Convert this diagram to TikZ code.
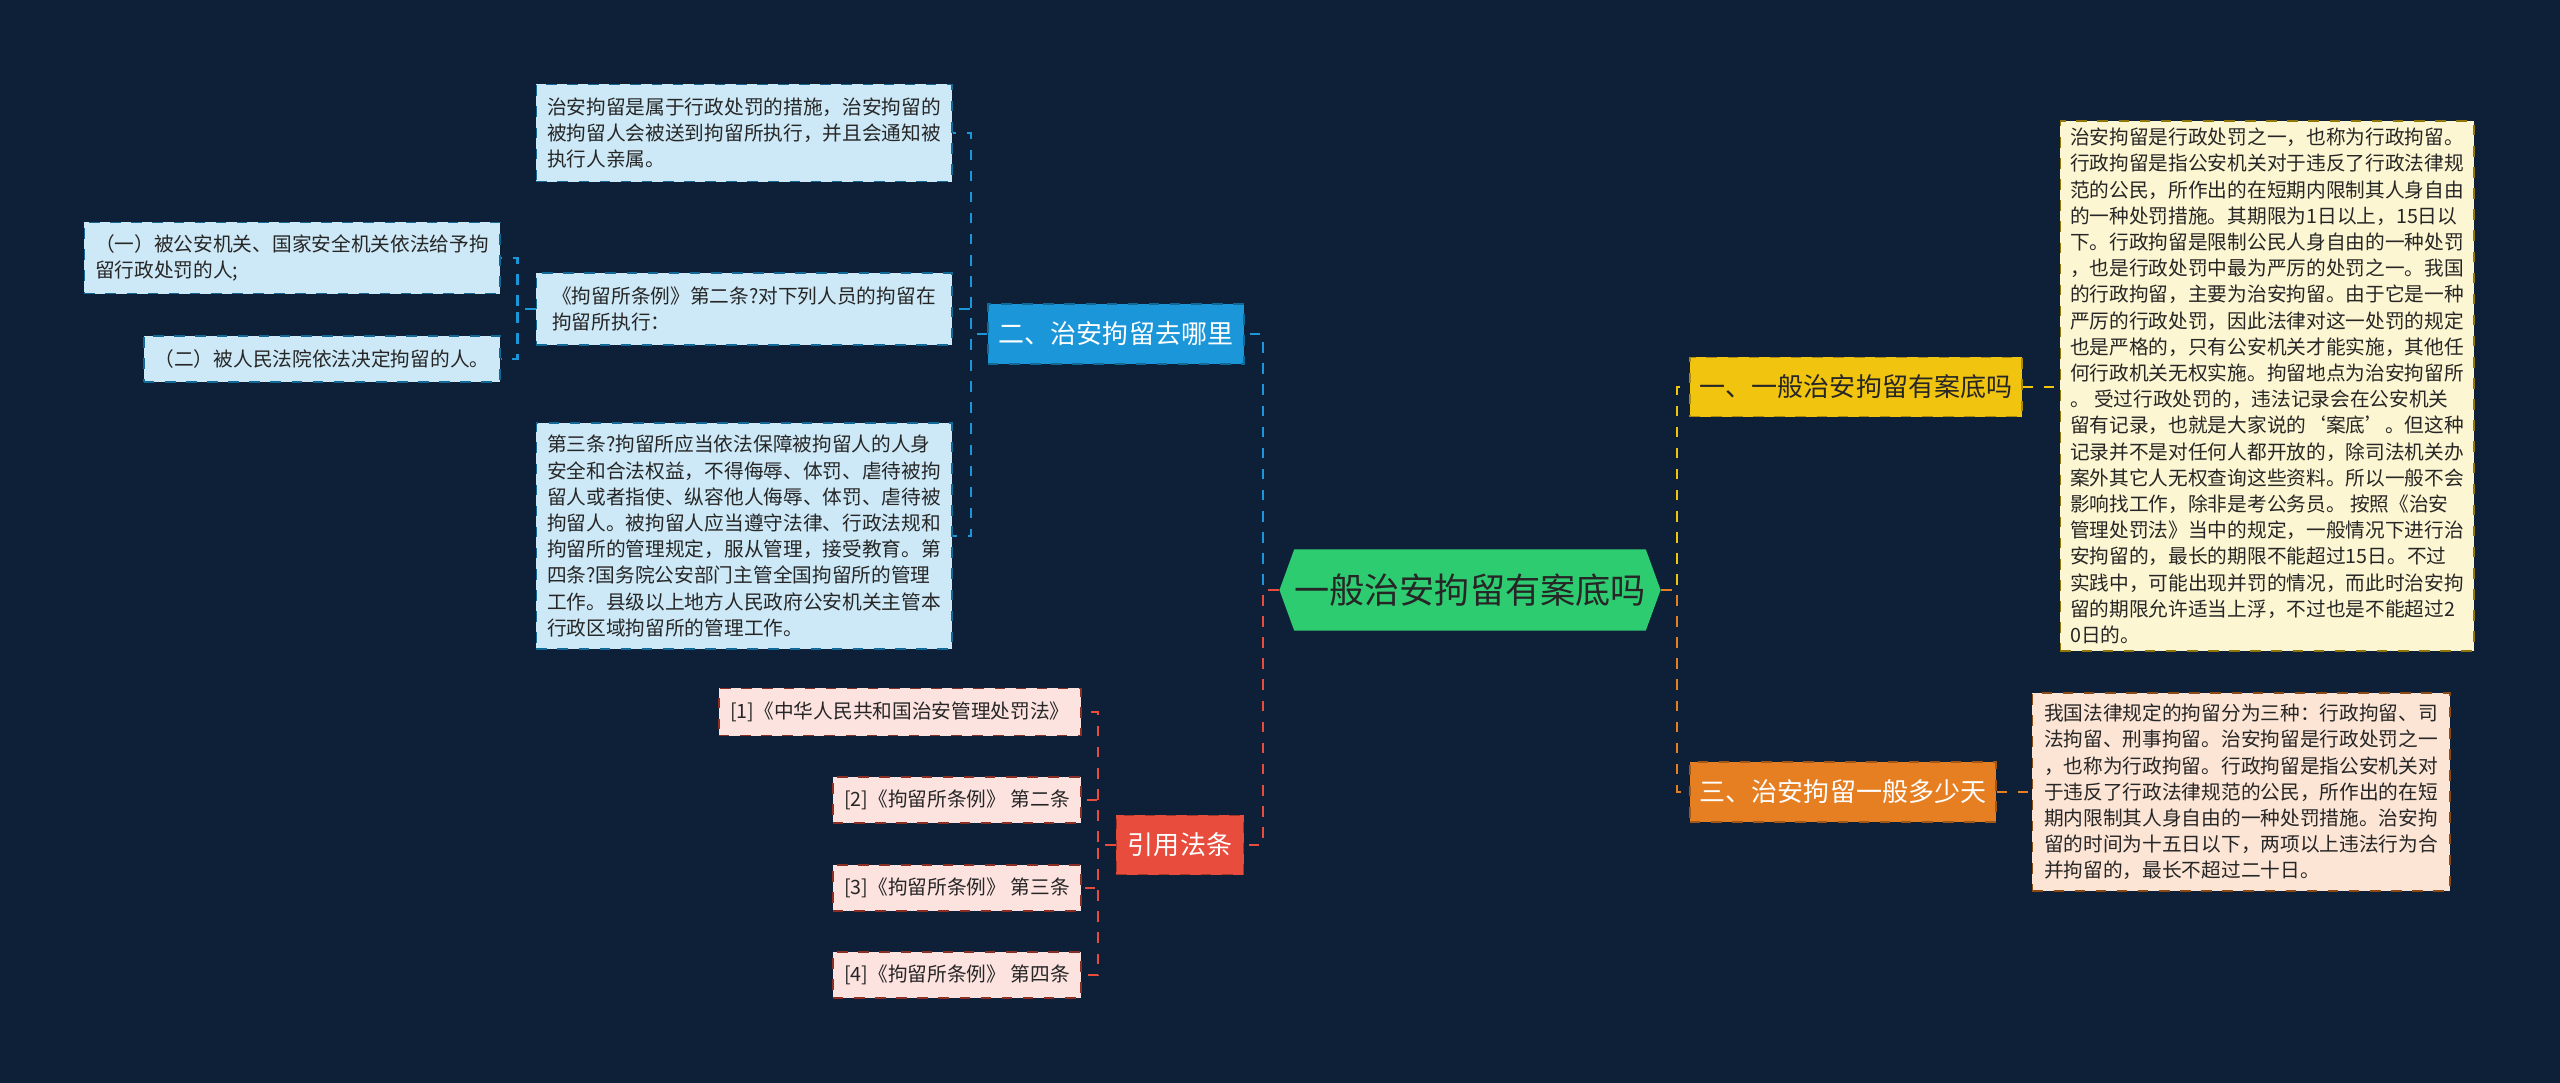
\documentclass[tikz,border=0pt]{standalone}
\usepackage{fontspec}
\setmainfont{Noto Sans CJK SC}
\usetikzlibrary{shapes.symbols}

\definecolor{bgc}{RGB}{13,32,56}
\definecolor{rootc}{RGB}{46,204,113}
\definecolor{bluec}{RGB}{26,150,217}
\definecolor{yelc}{RGB}{241,196,15}
\definecolor{orac}{RGB}{230,126,34}
\definecolor{redc}{RGB}{231,76,60}
\definecolor{bluet}{RGB}{205,233,247}
\definecolor{yelt}{RGB}{253,246,210}
\definecolor{orat}{RGB}{252,229,213}
\definecolor{redt}{RGB}{253,227,224}

\tikzset{
  txt/.style={draw, dashed, line width=0.5pt, align=left, text=black!85,
    font=\fontsize{5.6}{7.45}\selectfont, inner sep=0pt, anchor=center},
  tblue/.style={txt, fill=bluet, draw=bluec!70!black},
  tyel/.style={txt, fill=yelt, draw=yelc!60!black},
  tora/.style={txt, fill=orat, draw=orac!60!black},
  tred/.style={txt, fill=redt, draw=redc!60!black},
  branch/.style={draw, dashed, text=white, font=\fontsize{7.4}{9}\selectfont, inner sep=0pt},
  cbl/.style={bluec, dashed, line width=0.6pt},
  cye/.style={yelc, dashed, line width=0.6pt},
  cor/.style={orac, dashed, line width=0.6pt},
  cre/.style={redc, dashed, line width=0.6pt},
}

\begin{document}
\begin{tikzpicture}[x=0.01cm, y=-0.01cm]
\useasboundingbox[fill=bgc] (0,0) rectangle (2560,1083);

% root
\node[shape=signal, signal to=east and west, signal pointer angle=140, fill=rootc,
  minimum width=3.69cm, minimum height=0.81cm, inner xsep=0pt, inner ysep=0pt,
  font=\fontsize{10}{12}\selectfont, text=black!85] (root) at (1470,590) {一般治安拘留有案底吗};

% right side
\node[branch, fill=yelc, draw=yelc!70!black, text=black!85, minimum width=3.32cm, minimum height=0.59cm] (b1) at (1856,387) {一、一般治安拘留有案底吗};
\node[branch, fill=orac, draw=orac!70!black, minimum width=3.06cm, minimum height=0.60cm] (b3) at (1843,792) {三、治安拘留一般多少天};

\node[tyel, minimum width=4.13cm, minimum height=5.29cm] (y1) at (2267,386) {治安拘留是行政处罚之一，也称为行政拘留。\\行政拘留是指公安机关对于违反了行政法律规\\范的公民，所作出的在短期内限制其人身自由\\的一种处罚措施。其期限为1日以上，15日以\\下。行政拘留是限制公民人身自由的一种处罚\\，也是行政处罚中最为严厉的处罚之一。我国\\的行政拘留，主要为治安拘留。由于它是一种\\严厉的行政处罚，因此法律对这一处罚的规定\\也是严格的，只有公安机关才能实施，其他任\\何行政机关无权实施。拘留地点为治安拘留所\\。 受过行政处罚的，违法记录会在公安机关\\留有记录，也就是大家说的‘案底’。但这种\\记录并不是对任何人都开放的，除司法机关办\\案外其它人无权查询这些资料。所以一般不会\\影响找工作，除非是考公务员。 按照《治安\\管理处罚法》当中的规定，一般情况下进行治\\安拘留的，最长的期限不能超过15日。不过\\实践中，可能出现并罚的情况，而此时治安拘\\留的期限允许适当上浮，不过也是不能超过2\\0日的。};
\node[tora, minimum width=4.17cm, minimum height=1.98cm] (o1) at (2241,792) {我国法律规定的拘留分为三种：行政拘留、司\\法拘留、刑事拘留。治安拘留是行政处罚之一\\，也称为行政拘留。行政拘留是指公安机关对\\于违反了行政法律规范的公民，所作出的在短\\期内限制其人身自由的一种处罚措施。治安拘\\留的时间为十五日以下，两项以上违法行为合\\并拘留的，最长不超过二十日。};

% left side
\node[branch, fill=bluec, draw=bluec!70!black, minimum width=2.56cm, minimum height=0.60cm] (b2) at (1116,334) {二、治安拘留去哪里};
\node[branch, fill=redc, draw=redc!70!black, minimum width=1.27cm, minimum height=0.59cm] (b4) at (1180,845) {引用法条};

\node[tblue, minimum width=4.15cm, minimum height=0.97cm] (t1) at (744,133) {治安拘留是属于行政处罚的措施，治安拘留的\\被拘留人会被送到拘留所执行，并且会通知被\\执行人亲属。};
\node[tblue, minimum width=4.15cm, minimum height=0.72cm] (t2) at (744,309) {《拘留所条例》第二条?对下列人员的拘留在\\拘留所执行：};
\node[tblue, minimum width=4.15cm, minimum height=2.26cm] (t3) at (744,536) {第三条?拘留所应当依法保障被拘留人的人身\\安全和合法权益，不得侮辱、体罚、虐待被拘\\留人或者指使、纵容他人侮辱、体罚、虐待被\\拘留人。被拘留人应当遵守法律、行政法规和\\拘留所的管理规定，服从管理，接受教育。第\\四条?国务院公安部门主管全国拘留所的管理\\工作。县级以上地方人民政府公安机关主管本\\行政区域拘留所的管理工作。};
\node[tblue, minimum width=4.15cm, minimum height=0.71cm] (l1) at (292,258) {（一）被公安机关、国家安全机关依法给予拘\\留行政处罚的人;};
\node[tblue, minimum width=3.56cm, minimum height=0.46cm] (l2) at (322,359) {（二）被人民法院依法决定拘留的人。};

\node[tred, minimum width=3.62cm, minimum height=0.47cm] (r1) at (900,712) {[1]《中华人民共和国治安管理处罚法》};
\node[tred, minimum width=2.48cm, minimum height=0.46cm] (r2) at (957,800) {[2]《拘留所条例》 第二条};
\node[tred, minimum width=2.48cm, minimum height=0.46cm] (r3) at (957,888) {[3]《拘留所条例》 第三条};
\node[tred, minimum width=2.48cm, minimum height=0.46cm] (r4) at (957,975) {[4]《拘留所条例》 第四条};

% connectors
\draw[cye] (root.east) -- ++(16,0) |- (b1.west);
\draw[cor] (root.east) -- ++(16,0) |- (b3.west);
\draw[cye] (b1.east) -- (y1.west |- b1.east);
\draw[cor] (b3.east) -- (o1.west |- b3.east);
\draw[cbl] (root.west) -- ++(-16,0) |- (b2.east);
\draw[cre] (root.west) -- ++(-16,0) |- (b4.east);
\draw[cbl] (b2.west) -- ++(-16,0) |- (t1.east);
\draw[cbl] (b2.west) -- ++(-16,0) |- (t2.east);
\draw[cbl] (b2.west) -- ++(-16,0) |- (t3.east);
\draw[cbl] (t2.west) -- ++(-18,0) |- (l1.east);
\draw[cbl] (t2.west) -- ++(-18,0) |- (l2.east);
\foreach \r in {r1,r2,r3,r4}
  \draw[cre] (b4.west) -- ++(-18,0) |- (\r.east);
\end{tikzpicture}
\end{document}
